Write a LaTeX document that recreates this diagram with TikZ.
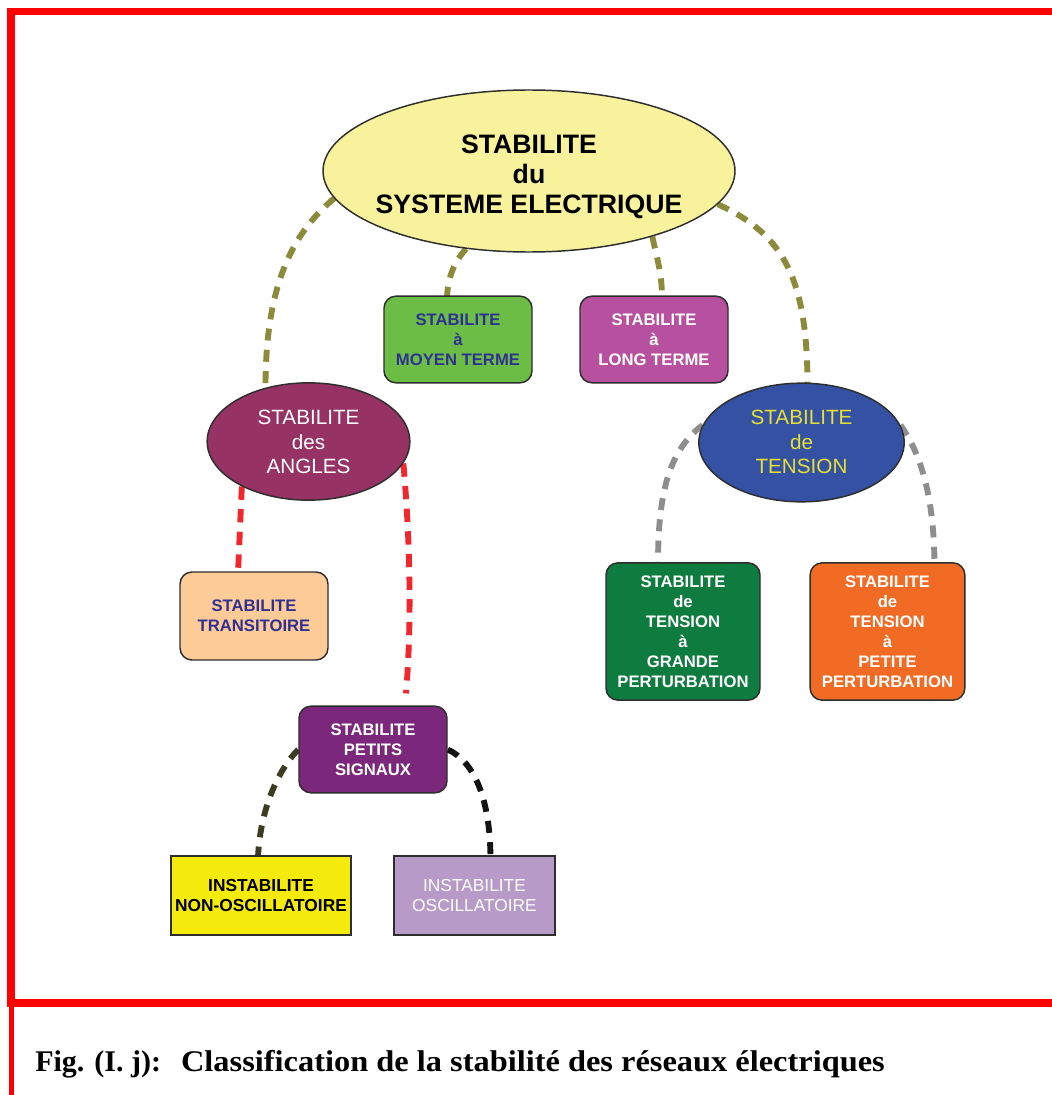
\documentclass[tikz,border=0pt]{standalone}
\usepackage{fontspec}
\setmainfont{Liberation Sans}
\newfontfamily\capserif{Liberation Serif}
\usetikzlibrary{shapes.geometric,backgrounds,calc}

\definecolor{frame}{HTML}{FF0000}
\definecolor{edge}{HTML}{2E2E2E}
\definecolor{paleyellow}{HTML}{F7F29B}
\definecolor{leaf}{HTML}{6BBD45}
\definecolor{orchid}{HTML}{B7519F}
\definecolor{wine}{HTML}{963264}
\definecolor{royal}{HTML}{3551A4}
\definecolor{peach}{HTML}{FDCB97}
\definecolor{forest}{HTML}{0F7C3F}
\definecolor{tangerine}{HTML}{F26B24}
\definecolor{plum}{HTML}{7B287C}
\definecolor{lemon}{HTML}{F4EA0C}
\definecolor{lilac}{HTML}{B89AC9}
\definecolor{navy}{HTML}{2E3192}
\definecolor{citron}{HTML}{E6E033}
\definecolor{olive}{HTML}{8B8B3B}
\definecolor{redlink}{HTML}{F0282D}
\definecolor{graylink}{HTML}{8E8E8E}
\definecolor{darkolive}{HTML}{3C3C22}
\definecolor{blacklink}{HTML}{141414}

\begin{document}
\begin{tikzpicture}[x=0.75pt,y=-0.75pt,
  ell/.style={ellipse, draw=edge, line width=1.1pt, inner sep=0pt},
  boxnode/.style={draw=edge, line width=1.1pt, rounded corners=9pt, align=center,
    inner sep=0pt, font=\bfseries\fontsize{12.5}{15}\selectfont},
  sqbox/.style={boxnode, rounded corners=0pt, font=\fontsize{13}{15.5}\selectfont},
  link/.style={line width=4.4pt, dash pattern=on 9pt off 7pt},
  frameline/.style={draw=frame, line width=5.6pt}
]
\useasboundingbox (0,0) rectangle (1052,1095);

% red frame and caption separator
\draw[frameline] (7,11.5) -- (1052,11.5);
\draw[frameline] (11,8) -- (11,1006);
\draw[frameline] (7,1003) -- (1052,1003);
\draw[draw=frame, line width=3.6pt] (11.5,1006) -- (11.5,1095);

% ellipses
\node[ell, fill=paleyellow, minimum width=309pt, minimum height=121.5pt] (top) at (529,171) {};
\node[align=center, text=black, font=\bfseries\fontsize{20}{22.5}\selectfont] (topt) at (529,177)
  {STABILITE\\du\\SYSTEME ELECTRIQUE};

\node[ell, fill=wine, minimum width=152pt, minimum height=88pt] (angles) at (308.5,441.5) {};
\node[align=center, text=white, font=\fontsize{15.5}{18.5}\selectfont] (anglest) at (308.5,442)
  {STABILITE\\des\\ANGLES};

\node[ell, fill=royal, minimum width=154pt, minimum height=89pt] (tension) at (801.5,442.5) {};
\node[align=center, text=citron, font=\fontsize{15.5}{18.5}\selectfont] (tensiont) at (801.5,442)
  {STABILITE\\de\\TENSION};

% rounded boxes
\node[boxnode, fill=leaf, text=navy, minimum width=111pt, minimum height=65pt] (moyen) at (458,339.5)
  {STABILITE\\à\\MOYEN TERME};
\node[boxnode, fill=orchid, text=white, minimum width=111pt, minimum height=65pt] (long) at (654,339.5)
  {STABILITE\\à\\LONG TERME};
\node[boxnode, fill=peach, text=navy, minimum width=111pt, minimum height=66pt] (trans) at (254,616)
  {STABILITE\\TRANSITOIRE};
\node[boxnode, fill=forest, text=white, minimum width=115.5pt, minimum height=103pt] (grande) at (683,631.5)
  {STABILITE\\de\\TENSION\\à\\GRANDE\\PERTURBATION};
\node[boxnode, fill=tangerine, text=white, minimum width=116pt, minimum height=103pt] (petite) at (887.5,631.5)
  {STABILITE\\de\\TENSION\\à\\PETITE\\PERTURBATION};
\node[boxnode, fill=plum, text=white, minimum width=111pt, minimum height=65pt] (petits) at (373,749.5)
  {STABILITE\\PETITS\\SIGNAUX};

% square boxes
\node[sqbox, fill=lemon, text=black, font=\bfseries\fontsize{13}{15.5}\selectfont,
  minimum width=135pt, minimum height=59pt] (nonosc) at (261,895.5)
  {INSTABILITE\\NON-OSCILLATOIRE};
\node[sqbox, fill=lilac, text=white, minimum width=121pt, minimum height=59pt] (osc) at (474.5,895.5)
  {INSTABILITE\\OSCILLATOIRE};

% dashed connectors behind the shapes
\begin{pgfonlayer}{background}
\fill[white] (0,0) rectangle (1052,1095);

\draw[link, olive] (top.188) .. controls (290,235) and (265,290) .. ($(angles.north)+(-43,8)$);
\draw[link, olive] (top.231) .. controls (458,258) and (448,272) .. ($(moyen.north)+(-11,2)$);
\draw[link, olive] (top.332) .. controls (656,255) and (662,272) .. ($(long.north)+(8,2)$);
\draw[link, olive] (top.350) .. controls (785,235) and (808,280) .. ($(tension.north)+(6,8)$);

\draw[link, redlink, dash pattern=on 10pt off 7pt] (angles.214) -- ($(trans.north)+(-16,2)$);
\draw[link, redlink, dash pattern=on 10pt off 7pt] (angles.347) .. controls (410,540) and (412,620) .. ($(petits.north)+(33,-12)$);

\draw[link, graylink] (tension.170) .. controls (670,450) and (658,490) .. ($(grande.north)+(-25,2)$);
\draw[link, graylink] (tension.10) .. controls (922,455) and (934,500) .. ($(petite.north)+(47,2)$);

\draw[link, darkolive] (petits.west) .. controls (278,770) and (260,810) .. ($(nonosc.north)+(-3,2)$);
\draw[link, blacklink] (petits.east) .. controls (475,762) and (490,800) .. ($(osc.north)+(16,2)$);
\end{pgfonlayer}

% caption
\node[anchor=base west, inner sep=0pt, font=\capserif\bfseries\fontsize{22.5}{27}\selectfont] (caption) at (35,1071)
  {Fig. (I. j):\hspace{15pt}\scalebox{1.08}[1]{Classification de la stabilité des réseaux électriques}};
\end{tikzpicture}
\end{document}
